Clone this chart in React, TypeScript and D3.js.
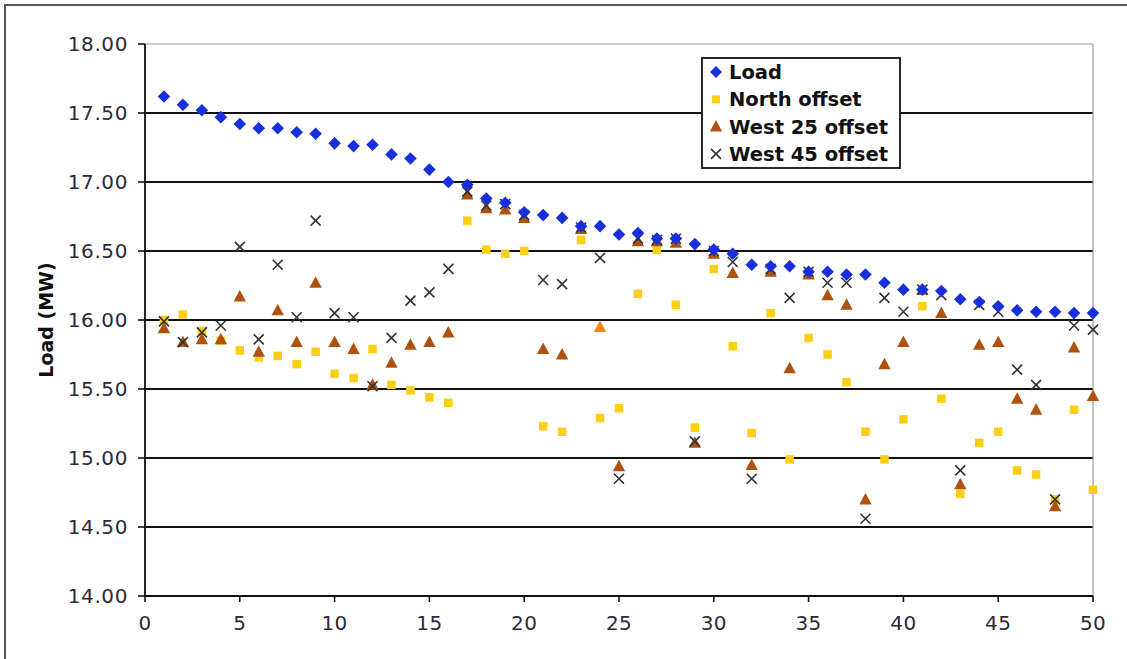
import React from "react";
import * as d3 from "d3";

const xValues = d3.range(1, 51);
const loadValues = [17.62,17.56,17.52,17.47,17.42,17.39,17.39,17.36,17.35,17.28,17.26,17.27,17.20,17.17,17.09,17.00,16.98,16.88,16.85,16.78,16.76,16.74,16.68,16.68,16.62,16.63,16.59,16.59,16.55,16.51,16.48,16.40,16.39,16.39,16.35,16.35,16.33,16.33,16.27,16.22,16.22,16.21,16.15,16.13,16.10,16.07,16.06,16.06,16.05,16.05];
const northValues = [16.00,16.04,15.92,15.85,15.78,15.73,15.74,15.68,15.77,15.61,15.58,15.79,15.53,15.49,15.44,15.40,16.72,16.51,16.48,16.50,15.23,15.19,16.58,15.29,15.36,16.19,16.51,16.11,15.22,16.37,15.81,15.18,16.05,14.99,15.87,15.75,15.55,15.19,14.99,15.28,16.10,15.43,14.74,15.11,15.19,14.91,14.88,14.70,15.35,14.77];
const west25Values = [15.94,15.84,15.86,15.86,16.17,15.77,16.07,15.84,16.27,15.84,15.79,15.53,15.69,15.82,15.84,15.91,16.91,16.81,16.80,16.74,15.79,15.75,16.66,15.95,14.94,16.57,16.57,16.56,15.11,16.48,16.34,14.95,16.35,15.65,16.33,16.18,16.11,14.70,15.68,15.84,16.22,16.05,14.81,15.82,15.84,15.43,15.35,14.65,15.80,15.45];
const west45Values = [15.99,15.84,15.91,15.96,16.53,15.86,16.40,16.02,16.72,16.05,16.02,15.52,15.87,16.14,16.20,16.37,16.93,16.83,16.84,16.76,16.29,16.26,16.67,16.45,14.85,16.59,16.58,16.59,15.12,16.50,16.42,14.85,16.37,16.16,16.35,16.27,16.27,14.56,16.16,16.06,16.22,16.18,14.91,16.11,16.06,15.64,15.53,14.70,15.96,15.93];
const west25Highlight = [24];
const yTicks = [14, 14.5, 15, 15.5, 16, 16.5, 17, 17.5, 18];
const xTicks = [0, 5, 10, 15, 20, 25, 30, 35, 40, 45, 50];
const legendLabels = ["Load", "North offset", "West 25 offset", "West 45 offset"];

const COLORS = {
  load: "#1830dc",
  north: "#fccf14",
  west25: "#b0520f",
  west25hl: "#f28220",
  west45: "#333333",
};

const FONT = "'DejaVu Sans', Verdana, sans-serif";

const Diamond = ({ cx, cy, r = 6.3 }: { cx: number; cy: number; r?: number }) => (
  <path d={`M${cx},${cy - r}L${cx + r},${cy}L${cx},${cy + r}L${cx - r},${cy}Z`} fill={COLORS.load} />
);
const Square = ({ cx, cy, s = 8.5 }: { cx: number; cy: number; s?: number }) => (
  <rect x={cx - s / 2} y={cy - s / 2} width={s} height={s} fill={COLORS.north} />
);
const Tri = ({ cx, cy, color }: { cx: number; cy: number; color: string }) => (
  <path d={`M${cx},${cy - 6.5}L${cx + 6.2},${cy + 5}L${cx - 6.2},${cy + 5}Z`} fill={color} />
);
const Cross = ({ cx, cy, r = 5 }: { cx: number; cy: number; r?: number }) => (
  <path d={`M${cx - r},${cy - r}L${cx + r},${cy + r}M${cx - r},${cy + r}L${cx + r},${cy - r}`} stroke={COLORS.west45} strokeWidth={1.6} fill="none" />
);

export default function App() {
  const W = 1127, H = 659;
  const left = 145, right = 1093, top = 44, bottom = 596;
  const x = d3.scaleLinear().domain([0, 50]).range([left, right]);
  const y = d3.scaleLinear().domain([14, 18]).range([bottom, top]);

  const legX = 702, legY = 58, legW = 198, legH = 110;
  const rowY = (i: number) => legY + 14 + i * 27.3;

  return (
    <svg width={W} height={H} style={{ position: "absolute", left: 0, top: 0, background: "#fff" }} fontFamily={FONT}>
      <rect x={0} y={0} width={W} height={H} fill="#fff" />
      <rect x={5} y={5} width={W + 10} height={H + 10} fill="none" stroke="#555" strokeWidth={2} />

      {/* gridlines */}
      {yTicks.filter(t => t > 14).map(t => (
        <line key={t} x1={left} x2={right} y1={y(t)} y2={y(t)} stroke={t === 18 ? "#9a9a9a" : "#111"} strokeWidth={t === 18 ? 1.2 : 1.8} />
      ))}
      <line x1={right} x2={right} y1={top} y2={bottom} stroke="#9a9a9a" strokeWidth={1.2} />

      {/* axes */}
      <line x1={left} x2={left} y1={top} y2={bottom} stroke="#111" strokeWidth={1.8} />
      <line x1={left} x2={right} y1={bottom} y2={bottom} stroke="#111" strokeWidth={1.8} />
      {yTicks.map(t => (
        <g key={t}>
          <line x1={left - 7} x2={left} y1={y(t)} y2={y(t)} stroke="#111" strokeWidth={1.6} />
          <text x={128} y={y(t)} dy="0.36em" textAnchor="end" fontSize={20} letterSpacing={0.6} fill="#2b2b38">{d3.format(".2f")(t)}</text>
        </g>
      ))}
      {xTicks.map(t => (
        <g key={t}>
          <line x1={x(t)} x2={x(t)} y1={bottom} y2={bottom + 6} stroke="#111" strokeWidth={1.6} />
          <text x={x(t)} y={623} dy="0.36em" textAnchor="middle" fontSize={20} letterSpacing={0.4} fill="#2b2b38">{t}</text>
        </g>
      ))}
      <text transform={`translate(46,${(top + bottom) / 2}) rotate(-90)`} textAnchor="middle" dy="0.36em" fontSize={19} fontWeight="bold" fill="#111">Load (MW)</text>

      {/* series */}
      <g>
        {northValues.map((v, i) => <Square key={"n" + i} cx={x(xValues[i])} cy={y(v)} />)}
      </g>
      <g>
        {west25Values.map((v, i) => (
          <Tri key={"w" + i} cx={x(xValues[i])} cy={y(v)} color={west25Highlight.includes(xValues[i]) ? COLORS.west25hl : COLORS.west25} />
        ))}
      </g>
      <g>
        {west45Values.map((v, i) => <Cross key={"x" + i} cx={x(xValues[i])} cy={y(v)} />)}
      </g>
      <g>
        {loadValues.map((v, i) => <Diamond key={"l" + i} cx={x(xValues[i])} cy={y(v)} />)}
      </g>

      {/* legend */}
      <rect x={legX} y={legY} width={legW} height={legH} fill="#fff" stroke="#111" strokeWidth={1.8} />
      {legendLabels.map((lab, i) => {
        const cy = rowY(i);
        const mx = 716;
        return (
          <g key={lab}>
            {i === 0 && <Diamond cx={mx} cy={cy} r={6} />}
            {i === 1 && <Square cx={mx} cy={cy} s={8} />}
            {i === 2 && <Tri cx={mx} cy={cy} color={COLORS.west25} />}
            {i === 3 && <Cross cx={mx} cy={cy} />}
            <text x={729} y={cy} dy="0.36em" fontSize={19.5} fontWeight="bold" fill="#111">{lab}</text>
          </g>
        );
      })}
    </svg>
  );
}
